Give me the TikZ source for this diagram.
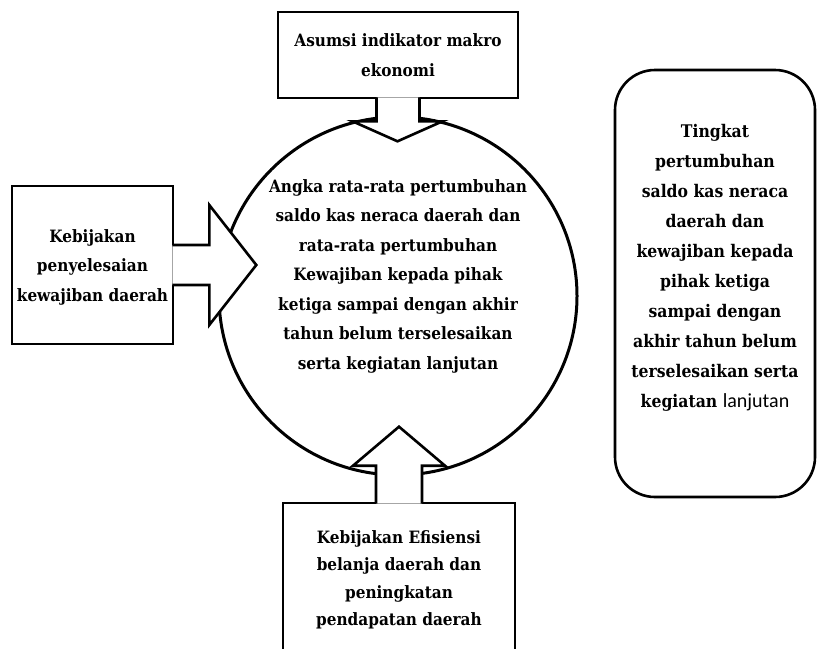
\documentclass[tikz,border=0pt]{standalone}
\usepackage{fontspec}
\setmainfont{DejaVu Serif Condensed}
\newfontfamily\tipis{Carlito}
\usetikzlibrary{positioning}

\begin{document}
\begin{tikzpicture}[
    x=1pt, y=-1pt,
    line width=2.6pt,
    kotak/.style={draw, fill=white, inner sep=0pt},
    teks/.style={align=center, font=\bfseries\fontsize{17}{29.5}\selectfont},
    teksk/.style={align=center, font=\bfseries\fontsize{17.4}{30}\selectfont}
]

\useasboundingbox (0,0) rectangle (818,648);

\node[draw, circle, minimum size=358pt, line width=3pt] (angka) at (398,296) {};
\node[kotak, minimum width=240pt, minimum height=86pt] (asumsi) at (398,55) {};
\node[kotak, minimum width=161pt, minimum height=158pt] (kebijakan) at (92.5,265) {};
\node[kotak, minimum width=232pt, minimum height=152pt] (efisiensi) at (399,579) {};
\node[kotak, rounded corners=40pt, minimum width=200pt, minimum height=427pt] (tingkat) at (715,283.5) {};

\path[draw, fill=white] ([xshift=-21.5pt, yshift=2pt]asumsi.south)
    -- ++(0,24) -- ++(-24,0) -- ++(45,20) -- ++(45,-20) -- ++(-23,0) -- ++(0,-24);
\path[draw, fill=white] ([xshift=-2pt, yshift=20pt]kebijakan.east)
    -- ++(37,0) -- ++(0,-40) -- ++(47,60) -- ++(-47,60) -- ++(0,-40) -- ++(-37,0);
\path[draw, fill=white] ([xshift=-23pt, yshift=-2pt]efisiensi.north)
    -- ++(0,-38) -- ++(-23,0) -- ++(46,-39) -- ++(46,39) -- ++(-23,0) -- ++(0,38);

\node[teks] (asumsiteks) at (asumsi) {Asumsi indikator makro\\ekonomi};
\node[teks] (kebijakanteks) at (92.5,267) {Kebijakan\\penyelesaian\\kewajiban daerah};
\node[teks, font=\bfseries\fontsize{17}{27.5}\selectfont] (efisiensiteks) at (399,580) {Kebijakan Efisiensi\\belanja daerah dan\\peningkatan\\pendapatan daerah};
\node[teks] (angkateks) at (398,276) {Angka rata-rata pertumbuhan\\saldo kas neraca daerah dan\\rata-rata pertumbuhan\\Kewajiban kepada pihak\\ketiga sampai dengan akhir\\tahun belum terselesaikan\\serta kegiatan lanjutan};
\node[teksk] (tingkatteks) at (715,268) {Tingkat\\pertumbuhan\\saldo kas neraca\\daerah dan\\kewajiban kepada\\pihak ketiga\\sampai dengan\\akhir tahun belum\\terselesaikan serta\\kegiatan {\mdseries\tipis\fontsize{20}{30}\selectfont lanjutan}};

\end{tikzpicture}
\end{document}
